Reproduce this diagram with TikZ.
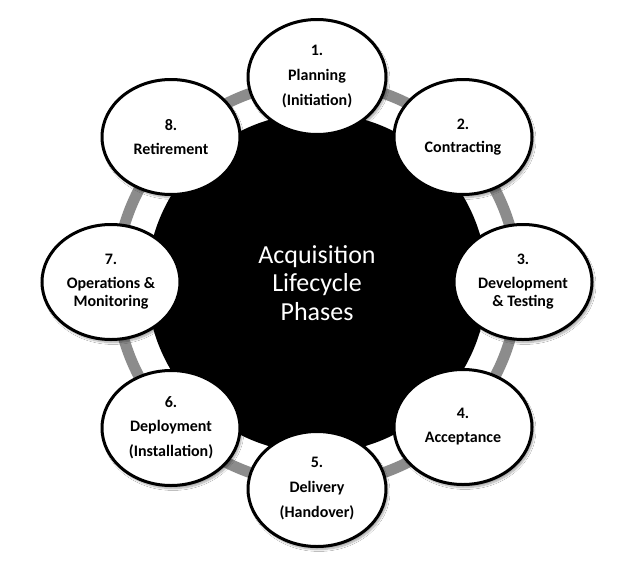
\documentclass[tikz,border=0pt]{standalone}
\usepackage{fontspec}
\setmainfont{Carlito}
\usetikzlibrary{shapes.geometric,shadows.blur}

\definecolor{ringgray}{HTML}{8C8C8C}

\tikzset{
  phase/.style={
    ellipse, draw=black, line width=3pt, fill=white,
    minimum width=138pt, minimum height=115pt, inner sep=0pt,
    align=center, font=\fontsize{16}{18}\selectfont\bfseries,
    blur shadow={shadow xshift=2pt, shadow yshift=-3pt,
                 shadow blur steps=8, shadow opacity=35}
  },
  hub/.style={circle, fill=black, minimum size=340pt, inner sep=0pt,
    text=white, align=center, font=\fontsize{26}{28.5}\selectfont},
  ring/.style={draw=ringgray, line width=11pt}
}

\begin{document}
\begin{tikzpicture}[x=1pt, y=-1pt]
  % canvas
  \fill[white] (0,0) rectangle (634,565);
  \useasboundingbox (0,0) rectangle (634,565);

  \coordinate (c) at (317,283);

  % grey ring linking the phases
  \draw[ring] (c) circle[radius=201pt];

  % central hub
  \node[hub] (hub) at (c) {Acquisition\\Lifecycle\\Phases};

  % the eight phases, clockwise from the top
  \node[phase] (p1) at (317,77)  {1.\\[7pt]Planning\\[7pt](Initiation)};
  \node[phase] (p2) at (463,137) {2.\\[5pt]Contracting};
  \node[phase] (p3) at (523,282) {3.\\[6pt]Development\\\&~Testing};
  \node[phase] (p4) at (463,427) {4.\\[6pt]Acceptance};
  \node[phase] (p5) at (317,489) {5.\\[7pt]Delivery\\[7pt](Handover)};
  \node[phase] (p6) at (171,428) {6.\\[6pt]Deployment\\[7pt](Installation)};
  \node[phase] (p7) at (111,282) {7.\\[6pt]Operations~\&\\Monitoring};
  \node[phase] (p8) at (171,137) {8.\\[6pt]Retirement};
\end{tikzpicture}
\end{document}
